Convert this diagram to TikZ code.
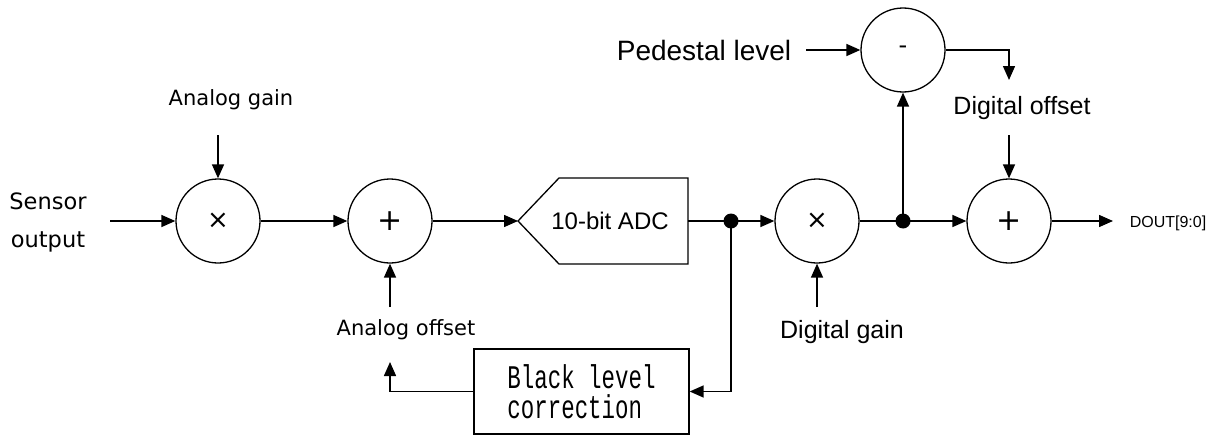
\documentclass[tikz,border=0pt]{standalone}
\usepackage{fontspec}
\setmainfont{Liberation Sans}
\newfontfamily\gothic{DejaVu Sans}
\newfontfamily\monof[FakeStretch=0.68]{Liberation Mono}
\usetikzlibrary{arrows.meta}
\begin{document}
\begin{tikzpicture}[x=1pt,y=-1pt,
  line width=1.5pt,
  arr/.style={-{Triangle[length=14pt,width=12pt]}},
  op/.style={circle,draw,line width=1.3pt,minimum size=84pt,inner sep=0pt},
  glab/.style={font=\gothic\fontsize{21}{38}\selectfont,inner sep=0pt,align=center},
  alab/.style={font=\fontsize{25}{30}\selectfont,inner sep=0pt},
  dotj/.style={circle,fill=black,inner sep=0pt,minimum size=15pt}]
\useasboundingbox (0,0) rectangle (1214,436);

% operator circles
\node[op,font=\gothic\fontsize{26}{28}\selectfont] (m1) at (218,221) {×};
\node[op,font=\gothic\fontsize{30}{32}\selectfont] (a1) at (390,221) {+};
\node[op,font=\gothic\fontsize{26}{28}\selectfont] (m2) at (817,221) {×};
\node[op,font=\gothic\fontsize{30}{32}\selectfont] (a2) at (1009,221) {+};
\node[op,font=\gothic\fontsize{24}{30}\selectfont] (s1) at (903,50) {-};

% ADC block
\coordinate (adcin) at (518,221);
\coordinate (adcout) at (688,221);
\draw[line width=1.3pt] (adcin) -- (559,178) -- (688,178) -- (688,264) -- (559,264) -- cycle;
\node[alab,font=\fontsize{24}{30}\selectfont] (adc) at (610,221) {10-bit ADC};

% junctions
\node[dotj] (j1) at (731,221) {};
\node[dotj] (j2) at (903,221) {};

% black level correction
\node[draw,line width=1.3pt,minimum width=215pt,minimum height=85pt,inner sep=0pt,
  align=left,font=\monof\fontsize{33}{30}\selectfont] (blc) at (581.5,391.5)
  {Black level\\correction};

% labels
\node[glab,font=\gothic\fontsize{22.5}{38}\selectfont] (sens) at (48,222) {Sensor\\output};
\node[glab] (again) at (231,100) {Analog gain};
\node[glab] (aoff) at (406,330) {Analog offset};
\node[alab,font=\fontsize{28}{30}\selectfont] (ped) at (704,50) {Pedestal level};
\node[alab] (doff) at (1022,108) {Digital offset};
\node[alab] (dgain) at (842,332) {Digital gain};
\node[inner sep=0pt,font=\fontsize{16}{18}\selectfont] (dout) at (1168,223) {DOUT[9:0]};

% free ends
\coordinate (cin) at (110,221);
\coordinate (agin) at (218,135);
\coordinate (aoin) at (390,307);
\coordinate (aofb) at (390,362);
\coordinate (pedin) at (806,50);
\coordinate (dofb) at (1009,80);
\coordinate (doin) at (1009,135);
\coordinate (dgin) at (817,307);
\coordinate (out) at (1113,221);

% connectors
\draw[arr] (cin) -- (m1.west);
\draw[arr] (agin) -- (m1.north);
\draw[arr] (m1.east) -- (a1.west);
\draw[arr] (aoin) -- (a1.south);
\draw[arr] (a1.east) -- (adcin);
\draw (adcout) -- (j1.center);
\draw[arr] (j1.center) -- (m2.west);
\draw[arr] (j1.center) |- (blc.east);
\draw[arr] (blc.west) -| (aofb);
\draw[arr] (dgin) -- (m2.south);
\draw (m2.east) -- (j2.center);
\draw[arr] (j2.center) -- (a2.west);
\draw[arr] (j2.center) -- (s1.south);
\draw[arr] (pedin) -- (s1.west);
\draw[arr] (s1.east) -| (dofb);
\draw[arr] (doin) -- (a2.north);
\draw[arr] (a2.east) -- (out);
\end{tikzpicture}
\end{document}
